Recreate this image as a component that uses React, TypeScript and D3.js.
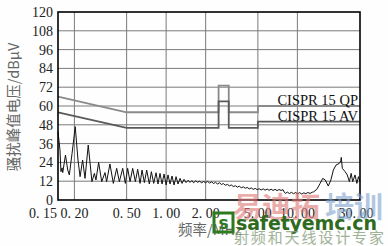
import React from "react";
import * as d3 from "d3";

const xTicks = [0.15, 0.2, 0.5, 1, 2, 5, 10, 30];
const xTickLabels = ["0. 15", "0. 20", "0. 50", "1. 00", "2. 00", "5. 00", "10. 00", "30. 00"];
const yTicks = [0, 12, 24, 36, 48, 60, 72, 84, 96, 108, 120];

const limitFreq = [0.15, 0.5, 2.51, 2.51, 3.0, 3.0, 5, 5, 30];
const qpLevel = [66, 56, 56, 73, 73, 56, 56, 60, 60];
const avLevel = [56, 46, 46, 63, 63, 46, 46, 50, 50];

const noiseFreq = [
  0.15, 0.1553, 0.158, 0.161, 0.163, 0.171, 0.178, 0.183, 0.192, 0.203,
  0.213, 0.221, 0.231, 0.241, 0.255, 0.272, 0.284, 0.292, 0.306, 0.323,
  0.342, 0.352, 0.373, 0.396, 0.42, 0.44, 0.467, 0.489, 0.509, 0.531,
  0.556, 0.583, 0.607, 0.633, 0.655, 0.683, 0.711, 0.745, 0.772, 0.804,
  0.838, 0.867, 0.898, 0.931, 0.964, 1.0, 1.034, 1.071, 1.109, 1.149,
  1.19, 1.232, 1.277, 1.322, 1.369, 1.418,
  1.47, 1.52, 1.57, 1.62, 1.68, 1.74, 1.8, 1.86, 1.93, 2.0,
  2.07, 2.14, 2.22, 2.3, 2.38, 2.46, 2.55, 2.64, 2.73, 2.83,
  2.93, 3.03, 3.14, 3.25, 3.37, 3.49, 3.61, 3.74, 3.87, 4.01,
  4.15, 4.3, 4.45, 4.61, 4.77, 4.94, 5.12, 5.3, 5.49, 5.68,
  5.88, 6.09, 6.31, 6.53, 6.76, 7.0, 7.25, 7.5, 7.77, 7.95,
  8.1, 8.4, 8.7, 9.0, 9.35, 9.7, 10.05, 10.4, 10.8, 11.2,
  11.6, 12.0, 12.5, 13.0,
  13.2, 14.06, 14.9, 15.6, 16.3, 17.2, 18.0, 18.8, 19.7, 20.9,
  21.4, 21.6, 22.0, 23.1, 24.0, 24.9, 25.7, 26.4, 27.5, 28.4,
  29.2, 30.0,
];
const noiseLevel = [
  43.6, 31.9, 18.1, 20.5, 17.5, 28.7, 19.1, 16.0, 29.8, 46.8,
  25.5, 14.9, 25.5, 13.8, 35.1, 11.7, 17.0, 12.8, 24.0, 11.7,
  17.5, 11.7, 23.0, 10.6, 20.2, 11.7, 20.2, 10.6, 20.2, 11.7,
  20.2, 11.7, 19.6, 10.6, 19.1, 11.1, 19.1, 10.2, 18.1, 10.6,
  17.4, 10.2, 17.0, 10.2, 16.6, 9.6, 16.0, 10.2, 15.3, 9.6,
  14.9, 10.2, 13.8, 10.6, 13.2, 11.1,
  12.6, 11.2, 12.4, 11.0, 12.3, 11.3, 12.1, 10.9, 11.8, 11.0,
  11.9, 10.8, 11.6, 10.5, 11.3, 10.2, 11.0, 9.9, 10.5, 9.4,
  10.0, 9.0, 9.6, 8.6, 9.1, 8.2, 8.8, 7.8, 8.4, 7.5,
  8.0, 7.1, 7.7, 6.8, 7.4, 6.6, 7.2, 6.4, 7.1, 6.3,
  7.0, 6.2, 6.9, 6.1, 6.8, 6.0, 6.7, 6.1, 6.6, 5.0,
  4.2, 5.0, 4.1, 4.9, 4.0, 4.8, 3.9, 4.7, 3.8, 4.6,
  4.0, 4.8, 4.2, 5.0,
  5.0, 6.8, 10.6, 13.8, 12.8, 8.9, 12.8, 19.1, 22.3, 23.4,
  25.0, 27.2, 20.2, 18.1, 16.0, 11.7, 17.0, 11.7, 16.0, 10.6,
  14.9, 11.7,
];

const W = 388;
const H = 246;
const L = 58, R = 360, T = 12, B = 200;

export default function App() {
  const x = d3.scaleLog().domain([0.15, 30]).range([L, R]);
  const y = d3.scaleLinear().domain([0, 120]).range([B, T]);
  const line = d3
    .line<number>()
    .x((_, i) => x(noiseFreq[i]))
    .y((d) => y(d));
  const limLine = d3
    .line<number>()
    .x((_, i) => x(limitFreq[i]))
    .y((d) => y(d));
  const serif = "'Liberation Serif', 'Times New Roman', serif";
  const cjk = "'Noto Sans CJK SC', sans-serif";

  return (
    <svg
      width={W}
      height={H}
      style={{ position: "absolute", left: 0, top: 0, background: "#fdfefd" }}
    >
      {yTicks.slice(1, -1).map((t) => (
        <line key={"h" + t} x1={L} x2={R} y1={y(t)} y2={y(t)} stroke="#7a7a7a" strokeWidth={1} />
      ))}
      {xTicks.slice(1, -1).map((t) => (
        <line key={"v" + t} x1={x(t)} x2={x(t)} y1={T} y2={B} stroke="#7a7a7a" strokeWidth={1} />
      ))}
      <path d={limLine(qpLevel) || ""} fill="none" stroke="#8a8a8a" strokeWidth={1.8} />
      <path d={limLine(avLevel) || ""} fill="none" stroke="#5a5a5a" strokeWidth={1.8} />
      <path d={line(noiseLevel) || ""} fill="none" stroke="#111" strokeWidth={1} strokeLinejoin="round" />
      <rect x={L} y={T} width={R - L} height={B - T} fill="none" stroke="#000" strokeWidth={1.6} />
      {yTicks.map((t) => (
        <text key={"yl" + t} x={53} y={y(t) + 5} textAnchor="end" fontFamily={serif} fontSize={14} fill="#222">
          {t}
        </text>
      ))}
      {xTicks.map((t, i) => {
        let anchor = "middle";
        let px = x(t);
        if (i === 0) {
          anchor = "end";
          px = x(t) - 1;
        } else if (i === xTicks.length - 1) {
          px = x(t) - 4;
        }
        return (
          <text key={"xl" + t} x={px} y={218} textAnchor={anchor} fontFamily={serif} fontSize={14} fill="#222">
            {xTickLabels[i]}
          </text>
        );
      })}
      <text x={358} y={105} textAnchor="end" fontFamily={serif} fontSize={14.5} fill="#111">
        CISPR 15 QP
      </text>
      <text x={358} y={121} textAnchor="end" fontFamily={serif} fontSize={14.5} fill="#111">
        CISPR 15 AV
      </text>
      <text
        transform="translate(19,107) rotate(-90)"
        textAnchor="middle"
        fontFamily={cjk}
        fontSize={14.5}
        fill="#666"
      >
        骚扰峰值电压/dBμV
      </text>
      <text x={210} y={235} textAnchor="middle" fontFamily={cjk} fontSize={14.5} fill="#666">
        频率/MHz
      </text>
      <g opacity={0.6}>
        <text x={233} y={218} fontFamily={cjk} fontWeight={700} fontSize={29} fill="#e07878">
          易迪拓
        </text>
        <text x={325} y={218} fontFamily={cjk} fontWeight={700} fontSize={29} fill="#7fa3d0">
          培训
        </text>
      </g>
      <rect x={214} y={213} width={19} height={19} fill="none" stroke="#2f7a1f" strokeWidth={3} />
      <text x={223.5} y={229} textAnchor="middle" fontFamily="'DejaVu Sans', sans-serif" fontWeight={700} fontSize={17} fill="#2f7a1f">
        s
      </text>
      <text x={236} y={230} fontFamily="'DejaVu Sans', sans-serif" fontWeight={700} fontSize={19} fill="#2f6a1f" textLength={141}>
        safetyemc.cn
      </text>
      <text x={234} y={243} fontFamily={cjk} fontSize={15} fill="#8aa080" opacity={0.8} textLength={150}>
        射频和天线设计专家
      </text>
    </svg>
  );
}
